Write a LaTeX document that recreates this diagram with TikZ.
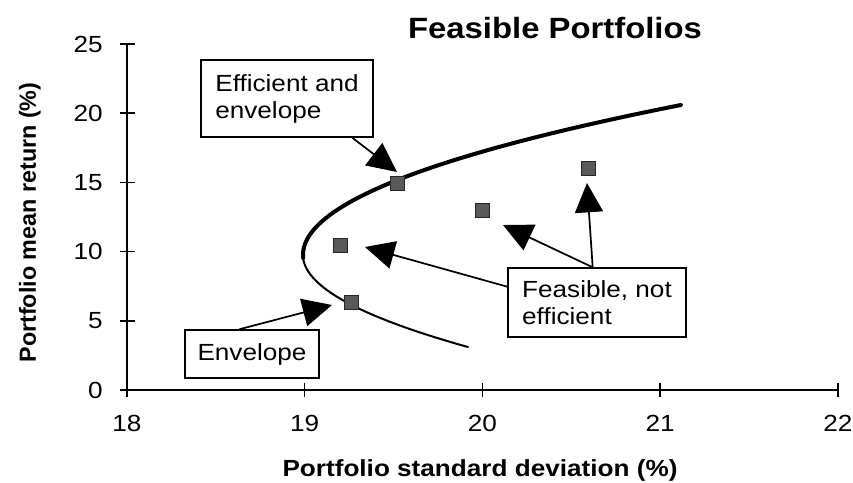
\documentclass[tikz,border=0pt]{standalone}
\usepackage{fontspec}
\setmainfont{Liberation Sans}[FakeStretch=1.12]
\newfontfamily\plainsans{Liberation Sans}
\usetikzlibrary{arrows.meta}
\begin{document}
\begin{tikzpicture}[x=0.75pt,y=-0.75pt,
  axis/.style={line width=1.1pt},
  ticklbl/.style={font=\fontsize{17.5}{21}\selectfont, inner sep=0pt},
  axlbl/.style={font=\bfseries\fontsize{17.5}{21}\selectfont, inner sep=0pt},
  callout/.style={draw, line width=1.1pt, align=left, font=\fontsize{17.5}{20.25}\selectfont},
  pointer/.style={line width=1.3pt, -{Triangle[length=22pt,width=21pt]}},
  marker/.style={rectangle, draw=black!85, fill=black!65, line width=0.6pt, minimum size=10.5pt, inner sep=0pt},
  effline/.style={line width=3pt, line cap=round},
  envline/.style={line width=1.5pt, line cap=round},
]
\useasboundingbox (0,0) rectangle (853,482);

% axes
\draw[axis] (127,44) -- (127,390) -- (838,390);
\foreach \v in {0,5,...,25}{
  \draw[axis] (120,{390-13.84*\v}) -- (135,{390-13.84*\v});
  \node[ticklbl, anchor=east] (yl\v) at (103,{390-13.84*\v}) {\v};
}
\foreach \v in {18,...,22}{
  \draw[axis] ({127+177.7*(\v-18)},383) -- ({127+177.7*(\v-18)},397);
  \node[ticklbl] (xl\v) at ({127+177.7*(\v-18)},423.5) {\v};
}

% titles
\node[font=\bfseries\fontsize{22}{26}\selectfont, anchor=base, inner sep=0pt] (title) at (555,38) {Feasible Portfolios};
\node[axlbl, anchor=base] (xlab) at (480,476) {Portfolio standard deviation (\%)};
\node[font=\plainsans\bfseries\fontsize{17.5}{21}\selectfont, inner sep=0pt, rotate=90, anchor=base] (ylab) at (36,222.5) {Portfolio mean return (\%)};

% frontier: efficient (upper) and envelope (lower) branches
\draw[effline] plot[variable=\t, domain=105:258, samples=80] ({303+((\t-255)*0.1296)^2}, \t);
\draw[envline] plot[variable=\t, domain=252:347, samples=60] ({303+((\t-255)*0.1396)^2}, \t);

% portfolios
\node[marker] (m1) at (397,183) {};
\node[marker] (m2) at (340,245) {};
\node[marker] (m3) at (351,302) {};
\node[marker] (m4) at (482,210) {};
\node[marker] (m5) at (588,168) {};

% callouts
\node[callout, minimum width=129pt, minimum height=57.75pt] (ee) at (287,98.5) {Efficient and\\envelope};
\node[callout, minimum width=100.5pt, minimum height=36pt, align=center] (env) at (252,354) {Envelope};
\node[callout, minimum width=133.5pt, minimum height=51.75pt] (feas) at (597,302.5) {Feasible, not\\efficient};

% pointers
\coordinate (t1) at (397,172);
\coordinate (t2) at (332,305);
\coordinate (t3) at (365,247);
\coordinate (t4) at (503,225);
\coordinate (t5) at (587,183);
\draw[pointer] (ee.-31) -- (t1);
\draw[pointer] (env.117) -- (t2);
\draw[pointer] (feas.170) -- (t3);
\draw[pointer] (feas.97) -- (t4);
\draw[pointer] (feas.97) -- (t5);
\end{tikzpicture}
\end{document}
